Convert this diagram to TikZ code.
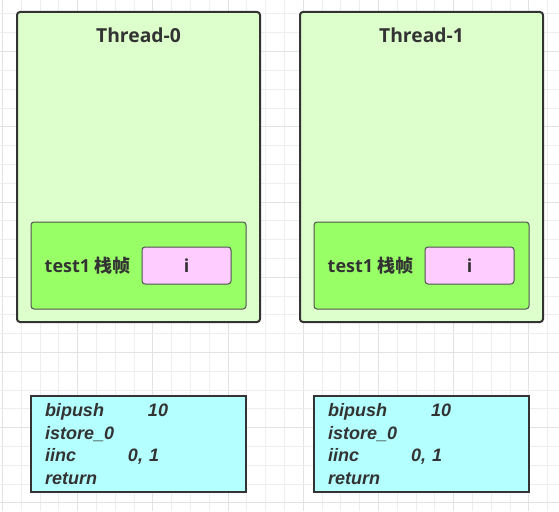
\documentclass[tikz,border=0pt]{standalone}
\usepackage{fontspec}
\setmainfont{Open Sans}
\newfontfamily\cjk{Noto Sans CJK SC}
\newfontfamily\codefont{Liberation Sans}
\usepackage{tikz}
\usetikzlibrary{positioning}
\definecolor{threadfill}{RGB}{221,255,204}
\definecolor{framefill}{RGB}{153,255,102}
\definecolor{slotfill}{RGB}{255,204,255}
\definecolor{codefill}{RGB}{180,255,255}
\definecolor{ink}{RGB}{51,51,51}
\definecolor{gridline}{RGB}{238,238,238}
\definecolor{gridmajor}{RGB}{226,226,226}
\tikzset{
thread/.style={draw=ink, line width=2pt, rounded corners=3pt, fill=threadfill, minimum width=243pt, minimum height=310pt, inner sep=0pt},
frame/.style={draw=ink!85, line width=1pt, rounded corners=3pt, fill=framefill, minimum width=215pt, minimum height=87pt, inner sep=0pt},
slot/.style={draw=ink!85, line width=1pt, rounded corners=3pt, fill=slotfill, minimum width=89pt, minimum height=37pt, inner sep=0pt, text=ink, font=\fontsize{18}{20}\selectfont\bfseries},
code/.style={draw=ink, line width=2pt, fill=codefill, minimum width=215pt, minimum height=96pt, inner xsep=14pt, inner ysep=0pt, text width=187pt, align=left, text=ink, font=\codefont\fontsize{18}{22.7}\selectfont\bfseries\itshape},
title/.style={inner sep=0pt, text=ink, font=\fontsize{19.3}{21}\selectfont\bfseries}
}

\begin{document}
\begin{tikzpicture}[x=1pt, y=-1pt]
  \useasboundingbox (0,0) rectangle (559,511);
  \fill[white] (0,0) rectangle (559,511);
  % background grid
  \foreach \k in {0,...,29} {
    \pgfmathsetmacro{\gc}{ifthenelse(mod(\k,4)==0,"gridmajor","gridline")}
    \draw[\gc, line width=1pt] (2.5+18.8*\k,0) -- (2.5+18.8*\k,511);
  }
  \foreach \k in {0,...,27} {
    \pgfmathsetmacro{\gc}{ifthenelse(mod(\k,4)==3,"gridmajor","gridline")}
    \draw[\gc, line width=1pt] (0,-4.8+18.8*\k) -- (559,-4.8+18.8*\k);
  }
  \foreach \n/\dx in {0/0, 1/283} {
    \node[thread] (t\n) at (138.5+\dx,167) {};
    \node[title, below=17pt of t\n.north] (h\n) {Thread-\n};
    \node[frame] (f\n) at (138.5+\dx,265.5) {};
    \node[title, anchor=west, xshift=14pt, font=\fontsize{18}{20}\selectfont\bfseries] (l\n) at (f\n.west) {test1 {\cjk\bfseries 栈帧}};
    \node[slot] (v\n) at (186.5+\dx,265.5) {i};
    \node[code] (c\n) at (138.5+\dx,444) {\makebox[103pt][l]{bipush}10\\ istore\_0\\ \makebox[83pt][l]{iinc}0, 1\\ return};
  }
\end{tikzpicture}
\end{document}
